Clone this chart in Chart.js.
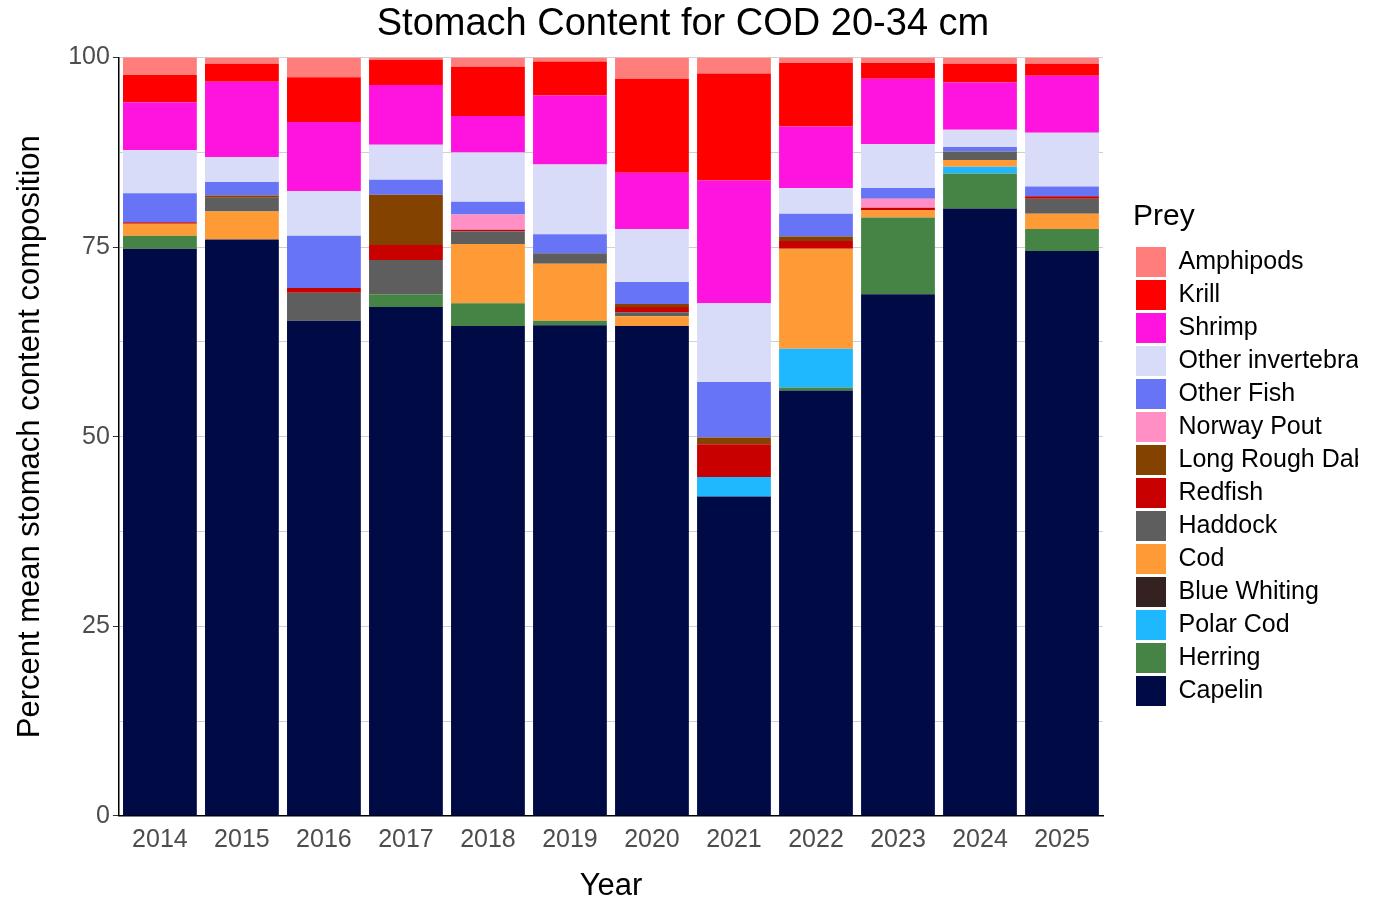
<!DOCTYPE html>
<html>
<head>
<meta charset="utf-8">
<script src="https://cdn.jsdelivr.net/npm/chart.js@4/dist/chart.umd.min.js"></script>
<style>
  html, body { margin: 0; padding: 0; background: #fff; }
  #wrap { width: 1378px; height: 919px; }
</style>
</head>
<body>
<div id="wrap"><canvas id="chart" width="1378" height="919"></canvas></div>
<script>
const years = ['2014','2015','2016','2017','2018','2019','2020','2021','2022','2023','2024','2025'];

// values per prey, bottom to top
const capelin      = [74.8, 76.0, 65.3, 67.1, 64.6, 64.7, 64.6, 42.1, 56.1, 68.8, 80.1, 74.5];
const herring      = [1.7, 0, 0, 1.7, 3.0, 0.6, 0, 0, 0.4, 10.1, 4.6, 2.9];
const polarCod     = [0, 0, 0, 0, 0, 0, 0, 2.6, 5.1, 0, 0.9, 0];
const blueWhiting  = [0, 0, 0, 0, 0, 0, 0, 0, 0, 0, 0, 0];
const cod          = [1.6, 3.7, 0, 0, 7.8, 7.5, 1.3, 0, 13.2, 1.0, 0.9, 2.0];
const haddock      = [0, 1.8, 3.7, 4.5, 1.7, 1.4, 0.5, 0, 0, 0, 1.1, 2.0];
const redfish      = [0.2, 0, 0.6, 2.0, 0.2, 0, 0.7, 4.3, 1.0, 0.3, 0, 0.3];
const longRoughDab = [0, 0.3, 0, 6.6, 0, 0, 0.4, 0.9, 0.6, 0, 0, 0];
const norwayPout   = [0, 0, 0, 0, 2.0, 0, 0, 0, 0, 1.2, 0, 0];
const otherFish    = [3.8, 1.8, 6.9, 2.0, 1.7, 2.5, 2.9, 7.3, 3.0, 1.4, 0.6, 1.3];
const otherInv     = [5.7, 3.3, 5.9, 4.6, 6.5, 9.2, 7.0, 10.4, 3.4, 5.8, 2.3, 7.1];
const shrimp       = [6.3, 9.9, 9.1, 7.9, 4.8, 9.1, 7.4, 16.2, 8.1, 8.6, 6.2, 7.5];
const krill        = [3.6, 2.4, 5.9, 3.3, 6.5, 4.5, 12.4, 14.1, 8.4, 2.1, 2.5, 1.6];
const amphipods    = [2.5, 0.8, 2.6, 0.3, 1.2, 0.5, 2.8, 2.1, 0.7, 0.7, 0.8, 0.8];

const preyNames = ['Capelin','Herring','Polar Cod','Blue Whiting','Cod','Haddock','Redfish',
  'Long Rough Dab','Norway Pout','Other Fish','Other invertebrates','Shrimp','Krill','Amphipods'];
const preyValues = [capelin, herring, polarCod, blueWhiting, cod, haddock, redfish,
  longRoughDab, norwayPout, otherFish, otherInv, shrimp, krill, amphipods];
const preyColors = ['#000a45','#468446','#1fb8ff','#33221f','#ff9b37','#5e5e5e','#c80000',
  '#834200','#ff8fc4','#6874f6','#d9dcf9','#ff13df','#ff0000','#ff7e7b'];

const FONT = "'Liberation Sans', Arial, sans-serif";

const datasets = preyNames.map((name, i) => ({
  label: name,
  data: preyValues[i],
  backgroundColor: preyColors[i],
  borderWidth: 0,
  barPercentage: 0.9,
  categoryPercentage: 1.0
}));

new Chart(document.getElementById('chart'), {
  type: 'bar',
  data: { labels: years, datasets: datasets },
  options: {
    responsive: false,
    animation: false,
    layout: { padding: { left: 8, right: 20, top: 2, bottom: 10 } },
    plugins: {
      title: {
        display: true,
        text: 'Stomach Content for COD 20-34 cm',
        color: '#000',
        font: { family: FONT, size: 38, weight: 'normal' },
        padding: { top: 0, bottom: 10 }
      },
      legend: {
        position: 'right',
        align: 'center',
        reverse: true,
        title: { display: true, text: 'Prey', position: 'start', color: '#000', font: { family: FONT, size: 30 }, padding: { top: 0, bottom: 6 } },
        labels: {
          boxWidth: 30, boxHeight: 30, padding: 3,
          color: '#000',
          font: { family: FONT, size: 25 }
        }
      },
      tooltip: { enabled: false }
    },
    scales: {
      x: {
        stacked: true,
        grid: { display: false, drawTicks: true, tickLength: 6 },
        border: { display: true, color: '#000', width: 1.5 },
        ticks: { color: '#4d4d4d', font: { family: FONT, size: 25 } },
        title: { display: true, text: 'Year', color: '#000', font: { family: FONT, size: 31 }, padding: { top: 10 } }
      },
      y: {
        stacked: true,
        min: 0, max: 100,
        grid: { color: '#d0d0d0', tickLength: 6, tickColor: ctx => (ctx.tick.value % 25 === 0 ? '#333' : 'transparent') },
        border: { display: true, color: '#000', width: 1.5 },
        ticks: {
          stepSize: 12.5,
          color: '#4d4d4d',
          font: { family: FONT, size: 25 },
          callback: v => (v % 25 === 0 ? v : '')
        },
        title: { display: true, text: 'Percent mean stomach content composition', color: '#000', font: { family: FONT, size: 31 }, padding: { bottom: 16 } }
      },
      gap: {
        position: 'right',
        display: true,
        grid: { display: false },
        border: { display: false },
        ticks: { display: false },
        afterFit: s => { s.width = 30; }
      }
    }
  }
});
</script>
</body>
</html>
